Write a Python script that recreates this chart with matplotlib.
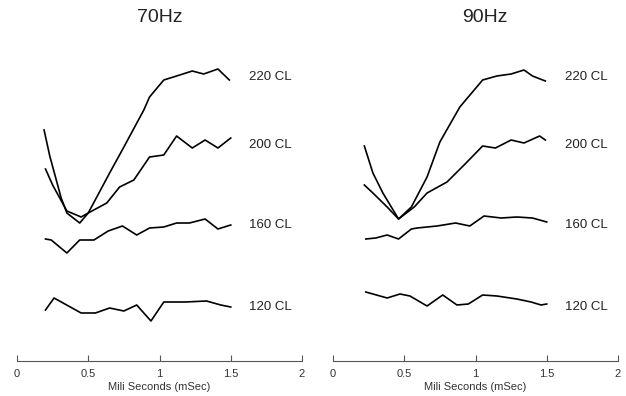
import matplotlib
matplotlib.use("Agg")
import matplotlib.pyplot as plt

# series (x in mSec, y in arbitrary amplitude units)
# 70Hz panel
x70_220 = [0.19, 0.23, 0.27, 0.31, 0.35, 0.44, 0.50, 0.65, 0.75, 0.89, 0.93, 1.03, 1.12, 1.23, 1.31, 1.41, 1.49]
y70_220 = [231, 205, 184, 163, 148, 138, 148, 188, 214, 251, 264, 281, 285, 290, 287, 292, 281]
x70_200 = [0.20, 0.25, 0.30, 0.35, 0.45, 0.50, 0.63, 0.72, 0.82, 0.93, 1.03, 1.12, 1.23, 1.32, 1.41, 1.50]
y70_200 = [192, 176, 163, 150, 144, 148, 158, 174, 181, 204, 206, 225, 213, 221, 213, 223]
x70_160 = [0.20, 0.24, 0.35, 0.44, 0.54, 0.64, 0.74, 0.84, 0.93, 1.03, 1.12, 1.21, 1.32, 1.41, 1.50]
y70_160 = [122, 121, 108, 121, 121, 130, 135, 126, 133, 134, 138, 138, 142, 132, 136]
x70_120 = [0.20, 0.26, 0.45, 0.55, 0.65, 0.75, 0.84, 0.94, 1.03, 1.18, 1.33, 1.43, 1.50]
y70_120 = [51, 63, 48, 48, 53, 50, 56, 40, 59, 59, 60, 56, 54]

# 90Hz panel
x90_220 = [0.22, 0.28, 0.35, 0.46, 0.55, 0.66, 0.75, 0.89, 1.05, 1.15, 1.25, 1.34, 1.40, 1.49]
y90_220 = [215, 188, 168, 142, 154, 184, 219, 254, 281, 285, 287, 291, 285, 280]
x90_200 = [0.22, 0.28, 0.38, 0.46, 0.57, 0.66, 0.80, 0.92, 1.05, 1.14, 1.25, 1.34, 1.45, 1.49]
y90_200 = [176, 168, 154, 142, 154, 168, 179, 196, 215, 213, 221, 218, 225, 221]
x90_160 = [0.23, 0.30, 0.38, 0.46, 0.55, 0.59, 0.73, 0.86, 0.96, 1.06, 1.18, 1.29, 1.40, 1.50]
y90_160 = [122, 123, 126, 122, 132, 133, 135, 138, 135, 145, 143, 144, 143, 139]
x90_120 = [0.23, 0.38, 0.47, 0.54, 0.66, 0.77, 0.87, 0.95, 1.05, 1.15, 1.29, 1.39, 1.46, 1.50]
y90_120 = [69, 63, 67, 65, 55, 66, 56, 57, 66, 65, 62, 59, 56, 57]

levels = ["220 CL", "200 CL", "160 CL", "120 CL"]
label_y = [284, 216, 136, 54]
xticks = [0, 0.5, 1, 1.5, 2]
xtick_labels = ["0", "0.5", "1", "1.5", "2"]

panels = [
    ("70Hz", [(x70_220, y70_220), (x70_200, y70_200), (x70_160, y70_160), (x70_120, y70_120)]),
    ("90Hz", [(x90_220, y90_220), (x90_200, y90_200), (x90_160, y90_160), (x90_120, y90_120)]),
]

fig = plt.figure(figsize=(6.26, 3.96), dpi=100)
lefts = [17 / 626, 333 / 626]
titles_x = [160 / 626, 485 / 626]

for i, (title, series) in enumerate(panels):
    ax = fig.add_axes([lefts[i], 35 / 396, 285 / 626, 321 / 396])
    for xs, ys in series:
        ax.plot(xs, ys, color="black", lw=1.2)
    for lab, ly in zip(levels, label_y):
        ax.text(1.63, ly, lab, fontsize=9.5, family="Liberation Sans",
                color="#222222", va="center", ha="left")
    ax.set_xlim(0, 2)
    ax.set_ylim(0, 321)
    ax.set_xticks(xticks)
    ax.set_xticklabels(xtick_labels, fontsize=8, family="Liberation Sans", color="#333333")
    ax.set_yticks([])
    for s in ["top", "right", "left"]:
        ax.spines[s].set_visible(False)
    ax.spines["bottom"].set_color("#555555")
    ax.tick_params(axis="x", direction="in", length=4, color="#555555", pad=6)
    ax.set_xlabel("Mili Seconds (mSec)", fontsize=8, family="Liberation Sans",
                  color="#333333", labelpad=2)
    fig.text(titles_x[i], 1 - 17 / 396, title, fontsize=14, family="Liberation Sans",
             ha="center", va="center", color="#222222")

fig.savefig("out.png", dpi=100)
